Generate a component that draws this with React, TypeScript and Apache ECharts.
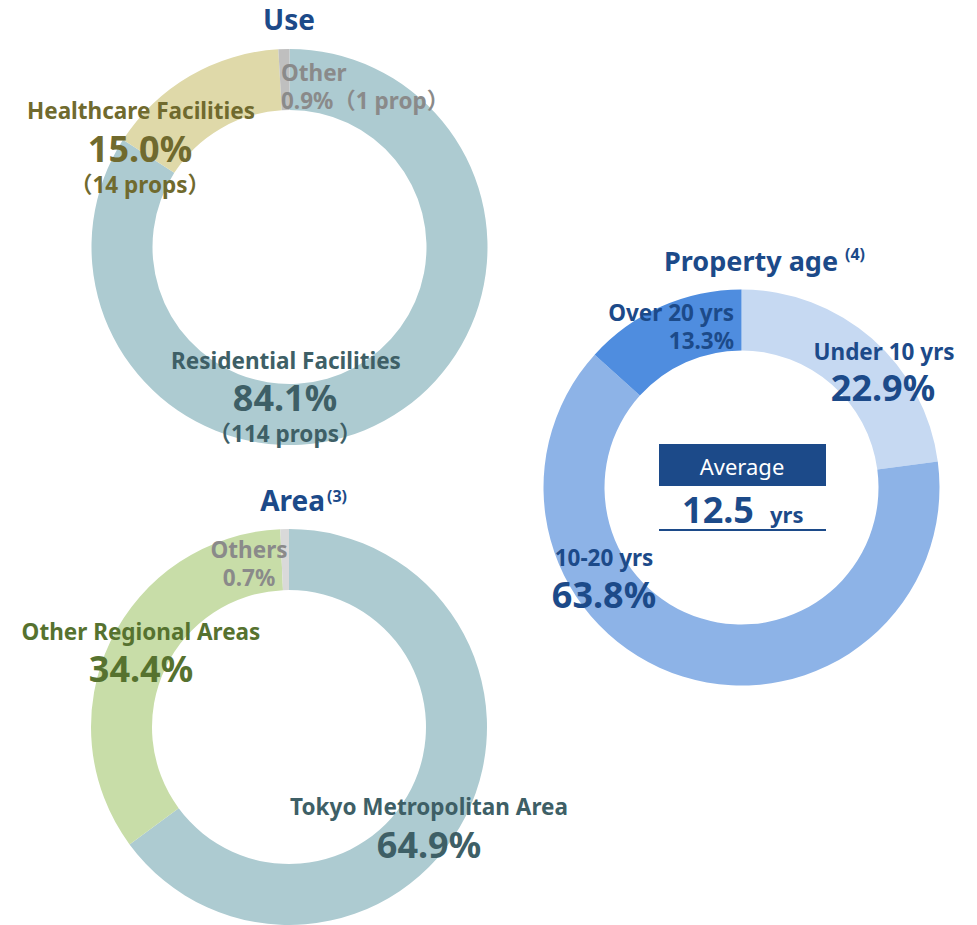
import React, { useEffect, useRef } from "react";
import * as echarts from "echarts";

const useNames = ["Residential Facilities", "Healthcare Facilities", "Other"];
const useValues = [84.1, 15.0, 0.9];
const useProps = [114, 14, 1];
const useColors = ["#adcbd1", "#dfd9a9", "#bfbfbf"];

const areaNames = ["Tokyo Metropolitan Area", "Other Regional Areas", "Others"];
const areaValues = [64.9, 34.4, 0.7];
const areaColors = ["#adcbd1", "#c8dda8", "#d9d9d9"];

const ageNames = ["Under 10 yrs", "10-20 yrs", "Over 20 yrs"];
const ageValues = [22.9, 63.8, 13.3];
const ageColors = ["#c6d9f2", "#8db3e7", "#4f8ddf"];
const averageAge = 12.5;

const FONT = '"Noto Sans", "Noto Sans CJK JP", sans-serif';
const BLUE = "#1c4a89";
const OLIVE = "#706a2e";
const TEAL = "#3e5f66";
const GRAY = "#8a8a8a";
const GREEN = "#56722f";
const LBL = 22.5;
const BIG = 36;

const pct = (v: number) => `${v.toFixed(1)}%`;

function txt(text: string, x: number, y: number, size: number, fill: string, align = "center", weight = "bold") {
  return {
    type: "text",
    x,
    y,
    z: 100,
    silent: true,
    style: {
      text,
      fill,
      font: `${weight} ${size}px ${FONT}`,
      textAlign: align,
      textVerticalAlign: "middle",
    },
  };
}

function pie(center: number[], names: string[], values: number[], colors: string[]) {
  return {
    type: "pie",
    center,
    radius: [137, 198],
    startAngle: 90,
    clockwise: true,
    silent: true,
    z: 1,
    label: { show: false },
    labelLine: { show: false },
    emphasis: { disabled: true },
    itemStyle: { borderWidth: 0 },
    data: names.map((n, i) => ({ name: n, value: values[i], itemStyle: { color: colors[i] } })),
  };
}

export default function App() {
  const ref = useRef<HTMLDivElement>(null);
  useEffect(() => {
    if (!ref.current) return;
    const chart = echarts.init(ref.current, undefined, { renderer: "svg" });
    const option = {
      animation: false,
      backgroundColor: "#ffffff",
      series: [
        pie([289.5, 247], useNames, useValues, useColors),
        pie([741.5, 487.5], ageNames, ageValues, ageColors),
        pie([289, 727], areaNames, areaValues, areaColors),
      ],
      graphic: {
        z: 100,
        elements: [
          // Use
          txt("Use", 289, 19, 28, BLUE),
          txt(useNames[2], 281, 72, LBL, GRAY, "left"),
          txt(`${pct(useValues[2])}（${useProps[2]} prop）`, 281, 100, LBL, GRAY, "left"),
          txt(useNames[1], 141, 110, LBL, OLIVE),
          txt(pct(useValues[1]), 140, 148, BIG, OLIVE),
          txt(`（${useProps[1]} props）`, 140, 184, LBL, OLIVE),
          txt(useNames[0], 286, 360, LBL, TEAL),
          txt(pct(useValues[0]), 285, 397, BIG, TEAL),
          txt(`（${useProps[0]} props）`, 285, 433, LBL, TEAL),
          // Property age
          txt("Property age", 838, 260, 27, BLUE, "right"),
          txt("(4)", 845, 254, 16, BLUE, "left"),
          txt(ageNames[2], 734, 312, LBL, BLUE, "right"),
          txt(pct(ageValues[2]), 734, 340, LBL, BLUE, "right"),
          txt(ageNames[0], 884, 351, LBL, BLUE),
          txt(pct(ageValues[0]), 883, 387, BIG, BLUE),
          txt(ageNames[1], 604, 557, LBL, BLUE),
          txt(pct(ageValues[1]), 604, 594, BIG, BLUE),
          {
            type: "rect",
            z: 100,
            silent: true,
            shape: { x: 659, y: 444, width: 167, height: 42 },
            style: { fill: BLUE },
          },
          txt("Average", 742, 466, 22, "#ffffff", "center", "normal"),
          txt(String(averageAge), 718, 509, 36, BLUE),
          txt("yrs", 770, 514, 22, BLUE, "left"),
          {
            type: "line",
            z: 100,
            silent: true,
            shape: { x1: 659, y1: 530, x2: 826, y2: 530 },
            style: { stroke: BLUE, lineWidth: 2 },
          },
          // Area
          txt("Area", 325, 500, 28, BLUE, "right"),
          txt("(3)", 327, 496, 16, BLUE, "left"),
          txt(areaNames[2], 249, 549, LBL, GRAY),
          txt(pct(areaValues[2]), 249, 577, LBL, GRAY),
          txt(areaNames[1], 141, 631, LBL, GREEN),
          txt(pct(areaValues[1]), 141, 668, BIG, GREEN),
          txt(areaNames[0], 429, 806, LBL, TEAL),
          txt(pct(areaValues[0]), 429, 844, BIG, TEAL),
        ],
      },
    };
    chart.setOption(option as any);
    return () => chart.dispose();
  }, []);
  return (
    <div
      ref={ref}
      style={{ position: "fixed", left: 0, top: 0, width: 977, height: 925, background: "#fff" }}
    />
  );
}
